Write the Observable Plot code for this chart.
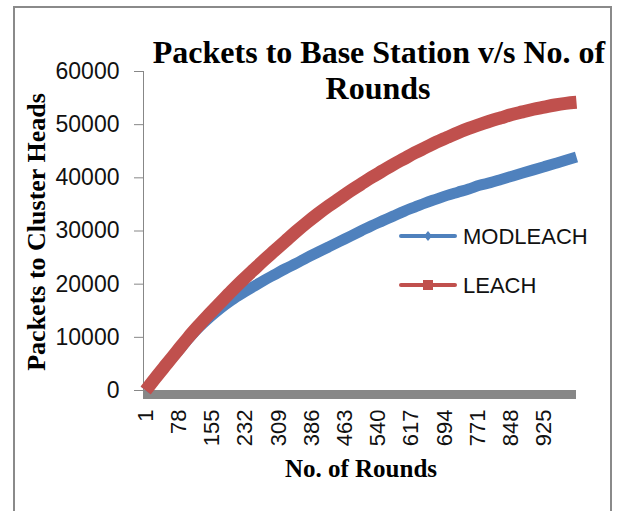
<!DOCTYPE html>
<html>
<head>
<meta charset="utf-8">
<script src="https://cdn.jsdelivr.net/npm/d3@7"></script>
<script src="https://cdn.jsdelivr.net/npm/@observablehq/plot@0.6"></script>
<style>
  html, body { margin: 0; padding: 0; background: #fff; }
  #wrap { position: relative; width: 622px; height: 511px; overflow: hidden; background: #fff; }
  #frame { position: absolute; left: 13px; top: 6px; width: 599px; height: 530px; border: 2px solid #8a8a8a; box-sizing: border-box; pointer-events: none; }
</style>
</head>
<body>
<div id="wrap">
  <div id="chart"></div>
  <div id="frame"></div>
</div>
<script>
const rounds = [1,25,50,75,100,125,150,175,200,225,250,275,300,325,350,375,400,425,450,475,500,525,550,575,600,625,650,675,700,725,750,775,800,825,850,875,900,925,950,975,1000];
const modleach = [0,2450,4900,7300,9700,11900,13800,15500,17000,18300,19500,20700,21800,22900,23900,25000,26000,27000,28000,29000,30000,31000,31900,32800,33700,34500,35300,36000,36700,37300,37900,38600,39100,39700,40300,40900,41500,42100,42700,43300,43900];
const leach = [0,2500,5000,7500,10000,12300,14500,16600,18700,20700,22600,24500,26300,28100,29900,31600,33200,34700,36100,37500,38800,40100,41300,42500,43600,44700,45700,46700,47600,48500,49300,50000,50700,51300,51900,52400,52900,53300,53700,54000,54200];
const seriesNames = ["MODLEACH", "LEACH"];
const seriesColors = ["#4F81BD", "#C0504D"];
const xTicks = [1,78,155,232,309,386,463,540,617,694,771,848,925];
const yTicks = [0,10000,20000,30000,40000,50000,60000];
const titleLines = ["Packets to Base Station v/s No. of", "Rounds"];
const xTitle = "No. of Rounds";
const yTitle = "Packets to Cluster Heads";

const data = [];
rounds.forEach((r, i) => {
  data.push({round: r, value: modleach[i], series: seriesNames[0]});
  data.push({round: r, value: leach[i], series: seriesNames[1]});
});

const chart = Plot.plot({
  width: 622,
  height: 511,
  marginLeft: 143,
  marginRight: 46,
  marginTop: 71,
  marginBottom: 121,
  x: {domain: [-4, 1000]},
  y: {domain: [0, 60000]},
  style: {fontFamily: "'Liberation Sans', Arial, sans-serif", fontSize: "22px", color: "#111", background: "#fff", overflow: "visible"},
  marks: [
    Plot.ruleY([0], {stroke: "#878787", strokeWidth: 9, dy: 4}),
    Plot.ruleX([-4], {stroke: "#878787", strokeWidth: 1}),
    Plot.axisY({ticks: yTicks, tickSize: 9, tickPadding: 15, tickFormat: d => String(d), stroke: "#878787", label: null, fontSize: 23}),
    Plot.axisX({ticks: xTicks, tickSize: 0, tickRotate: -90, tickPadding: 19, tickFormat: d => String(d), label: null, fontSize: 22}),
    Plot.line(data.filter(d => d.series === seriesNames[0]), {x: "round", y: "value", stroke: seriesColors[0], strokeWidth: 11, strokeLinecap: "butt", curve: "monotone-x"}),
    Plot.line(data.filter(d => d.series === seriesNames[1]), {x: "round", y: "value", stroke: seriesColors[1], strokeWidth: 13, strokeLinecap: "butt", curve: "monotone-x"})
  ]
});
document.getElementById("chart").appendChild(chart);

const svg = d3.select(chart);
const serif = "'Liberation Serif', 'Times New Roman', serif";
// Title
svg.append("text").attr("x", 379).attr("y", 63).attr("text-anchor", "middle")
  .style("font-family", serif).style("font-weight", "bold").style("font-size", "32px").attr("fill", "#000")
  .text(titleLines[0]);
svg.append("text").attr("x", 378).attr("y", 99).attr("text-anchor", "middle")
  .style("font-family", serif).style("font-weight", "bold").style("font-size", "32px").attr("fill", "#000")
  .text(titleLines[1]);
// Axis titles
svg.append("text").attr("x", 361).attr("y", 477).attr("text-anchor", "middle")
  .style("font-family", serif).style("font-weight", "bold").style("font-size", "25px").attr("fill", "#000")
  .text(xTitle);
svg.append("text").attr("transform", "translate(45,232) rotate(-90)").attr("text-anchor", "middle")
  .style("font-family", serif).style("font-weight", "bold").style("font-size", "26px").attr("fill", "#000")
  .text(yTitle);
// Legend
const lg = svg.append("g");
const legendY = [236, 285];
seriesNames.forEach((name, i) => {
  const y = legendY[i];
  lg.append("line").attr("x1", 401).attr("x2", 455).attr("y1", y).attr("y2", y)
    .attr("stroke", seriesColors[i]).attr("stroke-width", 4).attr("stroke-linecap", "round");
  if (i === 0) {
    lg.append("path").attr("d", `M428,${y-5}L432,${y}L428,${y+5}L424,${y}Z`).attr("fill", seriesColors[i]);
  } else {
    lg.append("rect").attr("x", 423).attr("y", y - 5).attr("width", 10).attr("height", 10).attr("fill", seriesColors[i]);
  }
  lg.append("text").attr("x", 463).attr("y", y).attr("dy", "0.36em").attr("text-anchor", "start")
    .style("font-family", "'Liberation Sans', Arial, sans-serif").style("font-size", "22px").attr("fill", "#111")
    .text(name);
});
</script>
</body>
</html>
